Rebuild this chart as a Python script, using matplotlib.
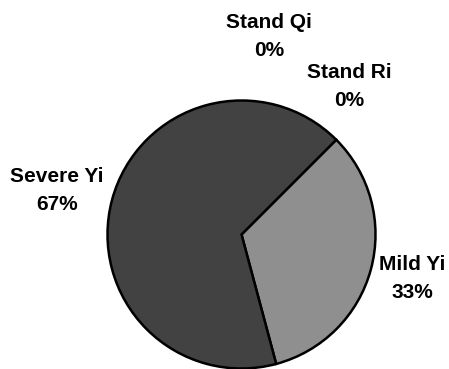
import matplotlib
matplotlib.use("Agg")
import matplotlib.pyplot as plt

# Share of cases by category
categories = ["Stand Qi", "Stand Ri", "Mild Yi", "Severe Yi"]
counts = [0, 0, 1, 2]
colors = ["#ffffff", "#d0d0d0", "#8f8f8f", "#424242"]

W, H = 449, 369
fig = plt.figure(figsize=(W / 100, H / 100), dpi=100)
ax = fig.add_axes([0, 0, 1, 1])

wedges, _ = ax.pie(
    counts,
    colors=colors,
    startangle=45,
    counterclock=False,
    center=(241.5, H - 234.5),
    radius=134,
    wedgeprops=dict(edgecolor="black", linewidth=1.8),
    frame=True,
)
for w in wedges:
    w.set_clip_on(False)
ax.axis("off")
ax.set_xlim(0, W)
ax.set_ylim(0, H)
ax.set_aspect("equal")

total = sum(counts)
label_pos = {
    "Stand Qi": (269, 36),
    "Stand Ri": (349, 86),
    "Mild Yi": (412, 279),
    "Severe Yi": (57, 190),
}
for name, val in zip(categories, counts):
    x, y = label_pos[name]
    pct = round(100 * val / total)
    ax.text(x, H - y, f"{name}\n{pct}%", ha="center", va="center",
            fontsize=15, fontweight="bold", family="Liberation Sans",
            linespacing=1.6)

fig.savefig("out.png", dpi=100)
